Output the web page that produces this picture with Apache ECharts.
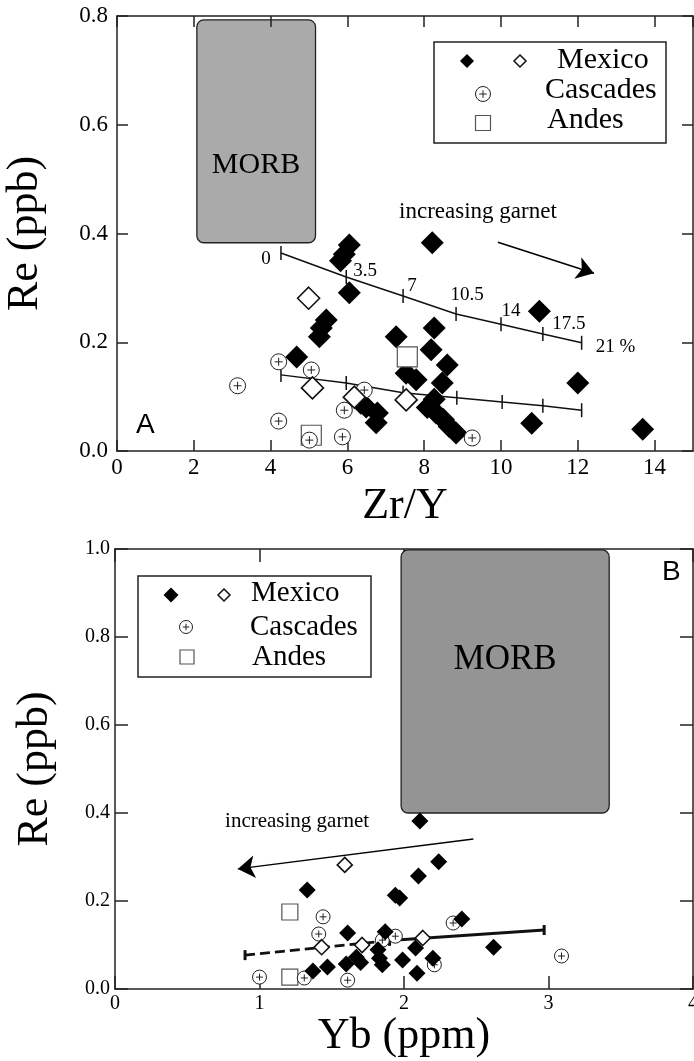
<!DOCTYPE html>
<html>
<head>
<meta charset="utf-8">
<title>Re vs Zr/Y and Yb</title>
<script src="https://cdn.jsdelivr.net/npm/echarts@6/dist/echarts.min.js"></script>
<style>
  html, body { margin: 0; padding: 0; background: #fff; }
  #chart { width: 694px; height: 1061px; }
</style>
</head>
<body>
<div id="chart"></div>
<script>
// ---- panel A : Re (ppb) vs Zr/Y ----
var mexicoA = [[6.05,0.379],[5.92,0.362],[5.82,0.350],[8.21,0.383],[6.05,0.291],[5.45,0.241],[5.32,0.226],
    [5.27,0.210],[4.68,0.173],[7.27,0.210],[8.26,0.226],[8.18,0.186],[8.60,0.158],[8.47,0.125],[7.53,0.143],
    [7.79,0.131],[6.35,0.088],[6.49,0.081],[6.78,0.070],[6.75,0.052],[8.26,0.095],[8.08,0.080],[8.31,0.070],
    [8.50,0.058],[8.65,0.045],[8.83,0.033],[11.0,0.257],[12.0,0.125],[10.8,0.051],[13.69,0.040]];
var mexicoOpenA = [[4.99,0.281],[5.09,0.116],[6.18,0.099],[7.53,0.094]];
var cascadesA = [[3.14,0.120],[4.21,0.164],[5.06,0.149],[6.44,0.112],[5.92,0.075],[4.21,0.055],[5.01,0.020],
    [5.87,0.026],[9.25,0.024]];
var andesA = [[7.56,0.173],[5.06,0.029]];
var meltUpperA = [[4.27,0.364],[5.97,0.320],[7.45,0.285],[8.83,0.252],[10.0,0.233],[11.09,0.215],[12.10,0.199]];
var meltLowerA = [[4.27,0.140],[5.97,0.125],[7.45,0.107],[8.85,0.098],[10.03,0.090],[11.09,0.083],[12.10,0.075]];
var meltLabels = ['0', '3.5', '7', '10.5', '14', '17.5', '21 %'];
var arrowA = [[9.92,0.384],[12.42,0.327]];
var morbBoxA = [2.08,0.383,5.17,0.793];
var morbTextA = [3.62,0.526];
var garnetTextA = [9.4,0.44];

// ---- panel B : Re (ppb) vs Yb (ppm) ----
var mexicoB = [[1.33,0.225],[1.37,0.041],[1.47,0.050],[1.61,0.127],[1.60,0.057],[1.67,0.072],[1.70,0.060],
    [1.82,0.089],[1.83,0.070],[1.85,0.055],[1.87,0.130],[1.94,0.213],[1.97,0.207],[1.99,0.066],[2.08,0.093],
    [2.09,0.036],[2.10,0.257],[2.11,0.382],[2.24,0.289],[2.20,0.070],[2.40,0.159],[2.62,0.095]];
var mexicoOpenB = [[1.59,0.282],[1.43,0.095],[1.71,0.100],[2.13,0.116]];
var cascadesB = [[1.00,0.027],[1.31,0.025],[1.44,0.164],[1.41,0.125],[1.61,0.020],[1.85,0.111],[1.94,0.120],
    [2.21,0.055],[2.34,0.150],[3.09,0.075]];
var andesB = [[1.21,0.175],[1.21,0.027]];
var meltDashedB = [[0.90,0.077],[1.90,0.110]];
var meltSolidB = [[1.90,0.110],[2.97,0.134]];
var arrowB = [[2.48,0.341],[0.85,0.273]];
var morbBoxB = [1.98,0.40,3.42,0.998];
var morbTextB = [2.70,0.748];
var garnetTextB = [1.26,0.38];

var serif = 'Liberation Serif';
var ink = '#000';
var axisColor = '#222';
var circlePlus = 'path://M10,0A10,10,0,0,1,10,20A10,10,0,0,1,10,0ZM10,5L10,15M5,10L15,10';

var chart = echarts.init(document.getElementById('chart'), null, {renderer: 'canvas'});

function xAxisDef(grid, max, interval, pos, opt) {
    return {
        gridIndex: grid, type: 'value', min: 0, max: max, interval: interval, position: pos,
        name: opt.name || '', nameLocation: 'middle', nameGap: opt.nameGap || 0,
        nameTextStyle: {fontFamily: serif, fontSize: 44, color: ink},
        axisLine: {show: true, onZero: false, lineStyle: {color: axisColor, width: 1.5}},
        axisTick: {show: true, inside: true, length: opt.tick, lineStyle: {color: axisColor, width: 1.5}},
        axisLabel: {show: !!opt.labels, margin: 5, fontFamily: serif, fontSize: opt.font, color: ink,
            showMaxLabel: opt.showMax !== false},
        splitLine: {show: false},
        z: opt.z || 0
    };
}
function yAxisDef(grid, max, pos, opt) {
    return {
        gridIndex: grid, type: 'value', min: 0, max: max, interval: 0.2, position: pos,
        name: opt.name || '', nameLocation: 'middle', nameGap: opt.nameGap || 0,
        nameTextStyle: {fontFamily: serif, fontSize: 44, color: ink},
        axisLine: {show: true, onZero: false, lineStyle: {color: axisColor, width: 1.5}},
        axisTick: {show: true, inside: true, length: opt.tick, lineStyle: {color: axisColor, width: 1.5}},
        axisLabel: {show: !!opt.labels, margin: opt.margin || 8, fontFamily: serif, fontSize: opt.font, color: ink,
            formatter: function (v) { return v.toFixed(1); }},
        splitLine: {show: false}
    };
}

function morbSeries(idx, box, fill) {
    return {
        type: 'custom', xAxisIndex: idx, yAxisIndex: idx, z: 1, silent: true,
        data: [box],
        encode: {x: [0, 2], y: [1, 3]},
        renderItem: function (params, api) {
            var p0 = api.coord([api.value(0), api.value(3)]);
            var p1 = api.coord([api.value(2), api.value(1)]);
            return {
                type: 'rect',
                shape: {x: p0[0], y: p0[1], width: p1[0] - p0[0], height: p1[1] - p0[1], r: 7},
                style: {fill: fill, stroke: '#222', lineWidth: 1.3}
            };
        }
    };
}

function labelStyle(size) {
    return {fontFamily: serif, fontSize: size, color: ink, opacity: 1, textBorderWidth: 0, textBorderColor: 'transparent'};
}

function textSeries(idx, pt, txt, size) {
    var lab = labelStyle(size);
    lab.show = true; lab.position = 'inside'; lab.formatter = txt;
    return {
        type: 'scatter', xAxisIndex: idx, yAxisIndex: idx, silent: true, z: 6,
        data: [pt], symbol: 'circle', symbolSize: 1, itemStyle: {color: 'rgba(0,0,0,0)'},
        label: lab
    };
}

function arrowSeries(idx, pts, head) {
    return {
        type: 'lines', coordinateSystem: 'cartesian2d', xAxisIndex: idx, yAxisIndex: idx, silent: true, z: 4,
        symbol: ['none', 'arrow'], symbolSize: head,
        lineStyle: {color: ink, width: 1.5, opacity: 1, curveness: 0},
        data: [{coords: pts}]
    };
}

function markSeries(idx, data, kind, size, z) {
    var s = {type: 'scatter', xAxisIndex: idx, yAxisIndex: idx, data: data, z: z};
    if (kind === 'filled') {
        s.symbol = 'diamond'; s.symbolSize = size;
        s.itemStyle = {color: '#000', opacity: 1};
    } else if (kind === 'open') {
        s.symbol = 'diamond'; s.symbolSize = size;
        s.itemStyle = {color: '#fff', borderColor: '#111', borderWidth: 1.6, opacity: 1};
    } else if (kind === 'circle') {
        s.symbol = circlePlus; s.symbolSize = size;
        s.itemStyle = {color: '#fff', borderColor: '#222', borderWidth: 1, opacity: 1};
    } else {
        s.symbol = 'rect'; s.symbolSize = size;
        s.itemStyle = {color: '#fff', borderColor: '#555', borderWidth: 1.2, opacity: 1};
    }
    return s;
}

// label offsets of the melting % along the upper curve (pixels)
var meltLabelOffsets = [[-15,6],[19,-6],[9,-10],[11,-19],[10,-13],[26,-10],[34,4]];
var upperData = meltUpperA.map(function (p, i) {
    return {value: p, label: {offset: meltLabelOffsets[i]}};
});
var upperLabel = labelStyle(19);
upperLabel.show = true;
upperLabel.position = 'inside';
upperLabel.formatter = function (p) { return meltLabels[p.dataIndex]; };

function meltLine(idx, data, opt) {
    return {
        type: 'line', xAxisIndex: idx, yAxisIndex: idx, data: data, z: 3, silent: true,
        symbol: opt.symbol || 'rect', symbolSize: opt.symbolSize || [1.5, 14], showSymbol: true,
        itemStyle: {color: '#111'},
        lineStyle: {color: '#111', width: opt.width || 1.5, type: opt.type || 'solid'},
        label: opt.label || {show: false}
    };
}

var option = {
    animation: false,
    backgroundColor: '#fff',
    grid: [
        {left: 117, top: 16, width: 576, height: 435, outerBoundsMode: 'none'},
        {left: 115, top: 549, width: 578, height: 440, outerBoundsMode: 'none'}
    ],
    xAxis: [
        xAxisDef(0, 15, 2, 'bottom', {name: 'Zr/Y', nameGap: 33, tick: 11, labels: true, font: 23, showMax: false}),
        xAxisDef(0, 15, 2, 'top', {tick: 11, z: 5}),
        xAxisDef(1, 4, 1, 'bottom', {name: 'Yb (ppm)', nameGap: 20, tick: 13, labels: true, font: 20}),
        xAxisDef(1, 4, 1, 'top', {tick: 13})
    ],
    yAxis: [
        yAxisDef(0, 0.8, 'left', {name: 'Re (ppb)', nameGap: 70, tick: 11, labels: true, font: 23, margin: 9}),
        yAxisDef(0, 0.8, 'right', {tick: 11}),
        yAxisDef(1, 1.0, 'left', {name: 'Re (ppb)', nameGap: 58, tick: 13, labels: true, font: 20, margin: 5}),
        yAxisDef(1, 1.0, 'right', {tick: 13})
    ],
    series: [
        // panel A
        morbSeries(0, morbBoxA, '#aaaaaa'),
        textSeries(0, morbTextA, 'MORB', 30),
        meltLine(0, upperData, {label: upperLabel}),
        meltLine(0, meltLowerA, {}),
        arrowSeries(0, arrowA, [11, 17]),
        textSeries(0, garnetTextA, 'increasing garnet', 23),
        markSeries(0, mexicoA, 'filled', 23, 10),
        markSeries(0, andesA, 'square', 20, 11),
        markSeries(0, cascadesA, 'circle', 16, 12),
        markSeries(0, mexicoOpenA, 'open', 22, 13),
        // panel B
        morbSeries(2, morbBoxB, '#949494'),
        textSeries(2, morbTextB, 'MORB', 35),
        meltLine(2, meltDashedB, {width: 3, type: [10, 5], symbolSize: [3, 10]}),
        meltLine(2, meltSolidB, {width: 3, symbolSize: [3, 10]}),
        arrowSeries(2, arrowB, [11, 17]),
        textSeries(2, garnetTextB, 'increasing garnet', 21),
        markSeries(2, andesB, 'square', 16, 10),
        markSeries(2, cascadesB, 'circle', 14, 11),
        markSeries(2, mexicoB, 'filled', 17, 12),
        markSeries(2, mexicoOpenB, 'open', 15, 13)
    ],
    graphic: []
};

// hand-drawn legends and panel letters
function diamond(cx, cy, h, fill, stroke) {
    return {type: 'polygon', z: 101, shape: {points: [[cx, cy - h], [cx + h, cy], [cx, cy + h], [cx - h, cy]]},
        style: {fill: fill, stroke: stroke || null, lineWidth: 1.5}};
}
function circPlus(cx, cy, r) {
    return [
        {type: 'circle', z: 101, shape: {cx: cx, cy: cy, r: r}, style: {fill: '#fff', stroke: '#222', lineWidth: 1}},
        {type: 'line', z: 102, shape: {x1: cx - r / 2, y1: cy, x2: cx + r / 2, y2: cy}, style: {stroke: '#222', lineWidth: 1}},
        {type: 'line', z: 102, shape: {x1: cx, y1: cy - r / 2, x2: cx, y2: cy + r / 2}, style: {stroke: '#222', lineWidth: 1}}
    ];
}
function square(cx, cy, s) {
    return {type: 'rect', z: 101, shape: {x: cx - s / 2, y: cy - s / 2, width: s, height: s},
        style: {fill: '#fff', stroke: '#555', lineWidth: 1.2}};
}
function txt(x, y, t, size, family) {
    return {type: 'text', z: 101, style: {text: t, x: x, y: y, font: size + 'px "' + (family || serif) + '"',
        fill: ink, textAlign: 'left', align: 'left', textVerticalAlign: 'middle', verticalAlign: 'middle'}};
}
function legend(box, rows) {
    var els = [{type: 'rect', z: 100, shape: box, style: {fill: '#fff', stroke: '#222', lineWidth: 1.5}}];
    return els.concat(rows);
}

var g = option.graphic;
legend({x: 434, y: 42, width: 232, height: 101}, [].concat(
    diamond(467, 61, 7, '#000'), diamond(520, 61, 6, '#fff', '#111'), circPlus(483, 94, 7.5), square(483, 123, 15),
    txt(557, 60, 'Mexico', 30), txt(545, 90, 'Cascades', 30), txt(547, 120, 'Andes', 30)
)).forEach(function (e) { g.push(e); });
legend({x: 138, y: 576, width: 233, height: 101}, [].concat(
    diamond(171, 595, 7.5, '#000'), diamond(224, 595, 6, '#fff', '#111'), circPlus(186, 627, 6.5), square(187, 657, 14),
    txt(251, 593, 'Mexico', 29), txt(250, 627, 'Cascades', 29), txt(252, 657, 'Andes', 29)
)).forEach(function (e) { g.push(e); });
g.push(txt(136, 425, 'A', 28, 'Liberation Sans'));
g.push(txt(662, 572, 'B', 28, 'Liberation Sans'));

chart.setOption(option);
</script>
</body>
</html>
